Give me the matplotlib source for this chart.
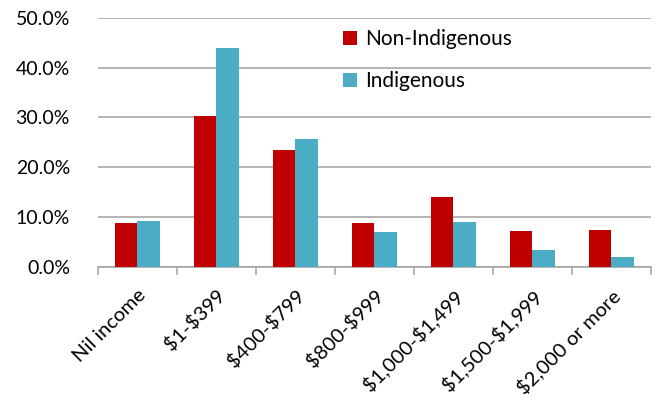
import numpy as np
import matplotlib
matplotlib.use("Agg")
import matplotlib.pyplot as plt
from matplotlib.ticker import PercentFormatter, FixedLocator

# weekly personal income bands, share of persons (%)
categories = ["Nil income", "$1-$399", "$400-$799", "$800-$999",
              "$1,000-$1,499", "$1,500-$1,999", "$2,000 or more"]
non_indigenous = [8.8, 30.3, 23.5, 8.8, 14.1, 7.2, 7.4]
indigenous = [9.2, 44.0, 25.7, 7.0, 9.0, 3.4, 2.0]

plt.rcParams['font.family'] = ['Lato', 'DejaVu Sans']
plt.rcParams['text.parse_math'] = False  # dollar signs are literal

fig = plt.figure(figsize=(6.56, 4.05), dpi=100)
ax = fig.add_axes([0.149, 0.341, 0.843, 0.615])

x = np.arange(len(categories))
w = 0.285
ax.bar(x - w / 2, non_indigenous, w, color="#C00000", label="Non-Indigenous", zorder=3)
ax.bar(x + w / 2, indigenous, w, color="#4BACC6", label="Indigenous", zorder=3)

ax.set_xlim(-0.5, len(categories) - 0.5)
ax.set_ylim(0, 50)
ax.set_yticks(np.arange(0, 51, 10))
ax.yaxis.set_major_formatter(PercentFormatter(decimals=1))
ax.yaxis.grid(True, color="#a0a0a0", linewidth=1.1, zorder=0)
ax.tick_params(axis="y", length=0, labelsize=14, pad=20)

ax.set_xticks(x)
ax.set_xticklabels(categories, rotation=45, ha="right", rotation_mode="anchor", fontsize=14.5)
ax.xaxis.set_minor_locator(FixedLocator(np.arange(-0.5, len(categories), 1)))
ax.tick_params(axis="x", which="major", length=0, pad=14)
ax.tick_params(axis="x", which="minor", length=6, width=1.1, color="#a0a0a0")

for s in ["top", "right", "left"]:
    ax.spines[s].set_visible(False)
ax.spines["bottom"].set_color("#a0a0a0")
ax.spines["bottom"].set_linewidth(1.1)

ax.legend(loc="upper left", bbox_to_anchor=(0.41, 1.03), frameon=False, fontsize=15,
          handlelength=0.65, handleheight=0.65, handletextpad=0.4, labelspacing=1.05)

fig.savefig("out.png", dpi=100)
